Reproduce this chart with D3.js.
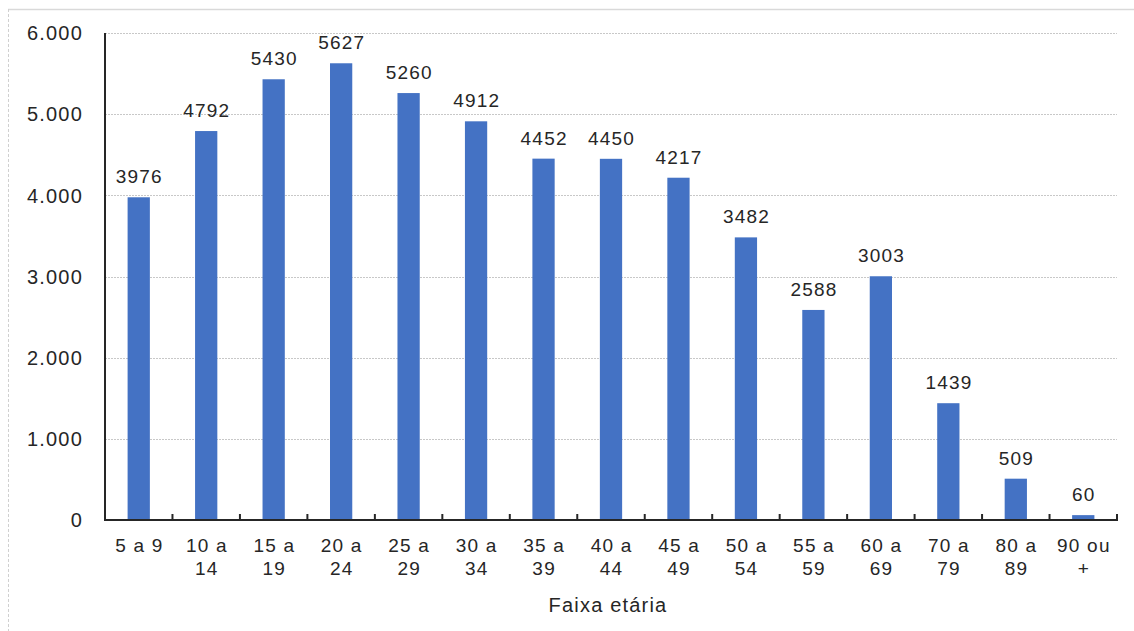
<!DOCTYPE html>
<html>
<head>
<meta charset="utf-8">
<script src="https://cdn.jsdelivr.net/npm/d3@7"></script>
<style>
  html, body { margin: 0; padding: 0; background: #fff; }
  svg { display: block; font-family: "Liberation Sans", Arial, sans-serif; }
  svg text { letter-spacing: 1.2px; }
</style>
</head>
<body>
<svg id="chart"></svg>
<script>
const faixas = [
  ["5 a 9"], ["10 a", "14"], ["15 a", "19"], ["20 a", "24"], ["25 a", "29"],
  ["30 a", "34"], ["35 a", "39"], ["40 a", "44"], ["45 a", "49"], ["50 a", "54"],
  ["55 a", "59"], ["60 a", "69"], ["70 a", "79"], ["80 a", "89"], ["90 ou", "+"],
];
const casos = [3976, 4792, 5430, 5627, 5260, 4912, 4452, 4450, 4217, 3482, 2588, 3003, 1439, 509, 60];
const yTicks = [0, 1000, 2000, 3000, 4000, 5000, 6000];
const xTitle = "Faixa etária";

const width = 1134, height = 631;
const margin = { top: 33, right: 17, bottom: 111, left: 105 };

const svg = d3.select("#chart").attr("width", width).attr("height", height);

// outer frame (only top and left visible in the crop)
svg.append("line")
  .attr("x1", 8).attr("x2", width).attr("y1", 9.5).attr("y2", 9.5)
  .attr("stroke", "#d9d9d9").attr("stroke-width", 1.5);
svg.append("line")
  .attr("x1", 8.5).attr("x2", 8.5).attr("y1", 9).attr("y2", height)
  .attr("stroke", "#d0d0d0").attr("stroke-width", 1).attr("stroke-dasharray", "3,2");

const keys = faixas.map((d) => d.join(" "));
const x = d3.scaleBand()
  .domain(keys)
  .range([margin.left, width - margin.right])
  .paddingInner(0.67).paddingOuter(0.335);
const y = d3.scaleLinear().domain([0, 6000]).range([height - margin.bottom, margin.top]);

const fmt = (v) => d3.format(",")(v).replace(/,/g, ".");

// grid
svg.append("g")
  .selectAll("line")
  .data(yTicks.filter((d) => d > 0))
  .join("line")
  .attr("x1", margin.left).attr("x2", width - margin.right)
  .attr("y1", (d) => Math.round(y(d)) + 0.5).attr("y2", (d) => Math.round(y(d)) + 0.5)
  .attr("stroke", "#c8c8c8").attr("stroke-width", 1).attr("stroke-dasharray", "2,1");

// y labels
svg.append("g")
  .selectAll("text")
  .data(yTicks)
  .join("text")
  .attr("x", 83).attr("y", (d) => y(d))
  .attr("dy", "0.36em")
  .attr("text-anchor", "end")
  .attr("font-size", 20).attr("fill", "#262626")
  .text(fmt);

// bars
svg.append("g")
  .selectAll("rect")
  .data(casos)
  .join("rect")
  .attr("x", (d, i) => x(keys[i]))
  .attr("width", x.bandwidth())
  .attr("y", (d) => y(d))
  .attr("height", (d) => y(0) - y(d))
  .attr("fill", "#4472c4");

// value labels
svg.append("g")
  .selectAll("text")
  .data(casos)
  .join("text")
  .attr("x", (d, i) => x(keys[i]) + x.bandwidth() / 2 + 0.6)
  .attr("y", (d) => y(d) - 14)
  .attr("text-anchor", "middle")
  .attr("font-size", 19).attr("fill", "#262626")
  .text((d) => d);

// axes lines
const step = (width - margin.right - margin.left) / keys.length;
const axis = svg.append("g").attr("stroke", "#262626").attr("stroke-width", 2);
axis.append("line")
  .attr("x1", margin.left).attr("x2", margin.left)
  .attr("y1", margin.top).attr("y2", y(0) + 1);
axis.append("line")
  .attr("x1", margin.left - 1).attr("x2", width - margin.right + 1)
  .attr("y1", y(0)).attr("y2", y(0));
axis.selectAll(".tick")
  .data(d3.range(1, keys.length + 1))
  .join("line")
  .attr("class", "tick")
  .attr("x1", (d) => margin.left + d * step).attr("x2", (d) => margin.left + d * step)
  .attr("y1", y(0) - 6).attr("y2", y(0));

// x labels
svg.append("g")
  .selectAll("text")
  .data(faixas)
  .join("text")
  .attr("text-anchor", "middle")
  .attr("font-size", 19).attr("fill", "#262626")
  .attr("transform", (d, i) => `translate(${x(keys[i]) + x.bandwidth() / 2 + 0.6},${y(0) + 32})`)
  .selectAll("tspan")
  .data((d) => d)
  .join("tspan")
  .attr("x", 0)
  .attr("dy", (d, i) => (i ? 23 : 0))
  .text((d) => d);

svg.append("text")
  .attr("x", 608)
  .attr("y", 612)
  .attr("text-anchor", "middle")
  .attr("font-size", 20).attr("fill", "#262626")
  .text(xTitle);
</script>
</body>
</html>
